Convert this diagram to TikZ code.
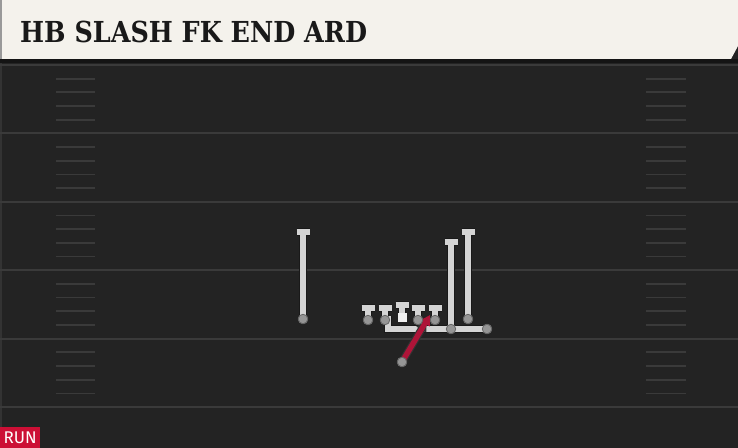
\documentclass[tikz,border=0pt]{standalone}
\usepackage{fontspec}
\usetikzlibrary{arrows.meta}
\newfontfamily\titlefont{DejaVu Serif}
\newfontfamily\tagfont{Fira Sans}
\definecolor{field}{HTML}{232323}
\definecolor{yardline}{HTML}{3A3A3A}
\definecolor{banner}{HTML}{F4F2EC}
\definecolor{routegray}{HTML}{D4D4D4}
\definecolor{dotgray}{HTML}{959595}
\definecolor{runred}{HTML}{AE1438}
\definecolor{tagred}{HTML}{CC0F35}

\begin{document}
\begin{tikzpicture}[x=1bp, y=-1bp,
    yard/.style={draw=yardline, line width=2bp},
    hash/.style={draw=yardline, line width=1.8bp},
    route/.style={preaction={draw=black!90, line width=8bp}, draw=routegray, line width=5.6bp},
    rush/.style={preaction={draw=black!80, line width=7.6bp, shorten >=7bp},
        draw=runred, line width=5.4bp, -{Triangle[length=10bp,width=11bp]}},
    player/.style={circle, fill=dotgray, draw=black!60, line width=0.8bp, inner sep=0pt, minimum size=9.5bp},
    snapper/.style={rectangle, fill=white!94!black, inner sep=0pt, minimum size=9bp}]
    \useasboundingbox (0,0) rectangle (738,448);

    % field
    \fill[field] (0,0) rectangle (738,448);
    \fill[black!80!white] (0,63) rectangle (2,427);
    \foreach \i in {0,...,5}
        \draw[yard] (0,{65+68.4*\i}) -- (738,{65+68.4*\i});
    \foreach \i in {0,...,4}
        \foreach \k in {1,...,4} {
            \draw[hash] (56,{65+68.4*\i+13.7*\k}) -- (95,{65+68.4*\i+13.7*\k});
            \draw[hash] (646,{65+68.4*\i+13.7*\k}) -- (686,{65+68.4*\i+13.7*\k});
        }

    % banner
    \fill[black!92] (0,59) rectangle (738,63);
    \fill[banner] (2,0) -- (738,0) -- (738,46) -- (731,59) -- (2,59) -- cycle;
    \fill[black!40] (0,0) rectangle (2,59);
    \node[anchor=west, text=black!90, inner sep=0pt] (title) at (20,32)
        {\scalebox{0.88}[1]{\titlefont\bfseries\fontsize{29}{29}\selectfont HB SLASH FK END ARD}};

    % players
    \node[player] (wr) at (303,319) {};
    \node[player] (lt) at (368,320) {};
    \node[player] (lg) at (385,320) {};
    \node[snapper] (c) at (402,318) {};
    \node[player] (rg) at (418,320) {};
    \node[player] (rt) at (435,320) {};
    \node[player] (te) at (451,329) {};
    \node[player] (slot) at (468,319) {};
    \node[player] (fk) at (487,329) {};
    \node[player] (hb) at (402,362) {};

    \coordinate (wrEnd) at (303,232);
    \coordinate (teEnd) at (451,242);
    \coordinate (slotEnd) at (468,232);
    \coordinate (fkTurn) at (388,329);
    \coordinate (fkEnd) at (388,316);
    \coordinate (hbEnd) at (430,315);

    % routes
    \draw[route] (wr.center) -- (wrEnd) ++(-6.5,0) -- ++(13,0);
    \foreach \p/\h in {lt/12, lg/12, rg/12, rt/12, c/13}
        \draw[route] (\p.center) -- ++(0,-\h) ++(-6.5,0) -- ++(13,0);
    \draw[route] (te.center) -- (teEnd) ++(-6.5,0) -- ++(13,0);
    \draw[route] (slot.center) -- (slotEnd) ++(-6.5,0) -- ++(13,0);
    \draw[route] (fk.center) -- (fkTurn) -- (fkEnd);
    \draw[rush] (hb.center) -- (hbEnd);

    % redraw markers on top
    \foreach \p in {wr, lt, lg, rg, rt, te, slot, fk, hb}
        \node[player] at (\p) {};
    \node[snapper] at (c) {};

    % tag
    \node[fill=tagred, text=white, anchor=south west, minimum width=40bp,
        minimum height=21bp, inner sep=0pt] (tag) at (0,448)
        {\tagfont\fontsize{17}{17}\selectfont RUN};
\end{tikzpicture}
\end{document}
